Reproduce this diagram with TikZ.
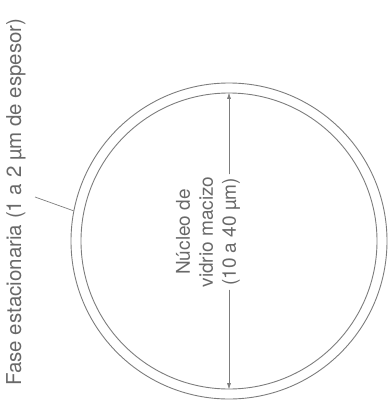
\documentclass[tikz,border=0pt]{standalone}
\usepackage{fontspec}
\setmainfont{TeX Gyre Heros}
\usepackage{xcolor}
\usepackage{tikz}
\usetikzlibrary{arrows.meta, positioning, calc}
\definecolor{inkgray}{RGB}{105, 105, 105}
\definecolor{linegray}{RGB}{125, 125, 125}
\tikzstyle{ring} = [circle, draw=linegray, line width=0.9pt, inner sep=0pt]
\tikzstyle{label} = [rotate=90, text=inkgray, inner sep=2pt]
\tikzstyle{dimarrow} = [-{Latex[length=2.2mm, width=1.4mm]}, draw=linegray, fill=linegray, line width=0.7pt]
\tikzstyle{leader} = [draw=linegray, line width=0.7pt]

\begin{document}
\begin{tikzpicture}[x=1pt, y=-1pt]
    \useasboundingbox (0,0) rectangle (390,408);
    % Fibre rings
    \node[ring, minimum size=316pt] (outer) at (229,241) {};
    \node[ring, minimum size=296pt] (inner) at (229,241) {};
    
    % Stationary phase label
    \node[label, font=\fontsize{20.5}{24}\selectfont] (fase) at (16,202) {Fase estacionaria (1 a 2 µm de espesor)};
    \coordinate (fasept) at (35,197);
    \draw[leader] (fasept) -- (outer.169);
    
    % Core label
    \node[label, align=center, font=\fontsize{19}{23}\selectfont] (nucleo) at (208,232) {Núcleo de\\vidrio macizo\\(10 a 40 µm)};
    
    % Diameter arrows
    \draw[dimarrow] (inner.north |- nucleo.east) -- (inner.north);
    \draw[dimarrow] (inner.south |- nucleo.west) -- (inner.south);
\end{tikzpicture}
\end{document}
